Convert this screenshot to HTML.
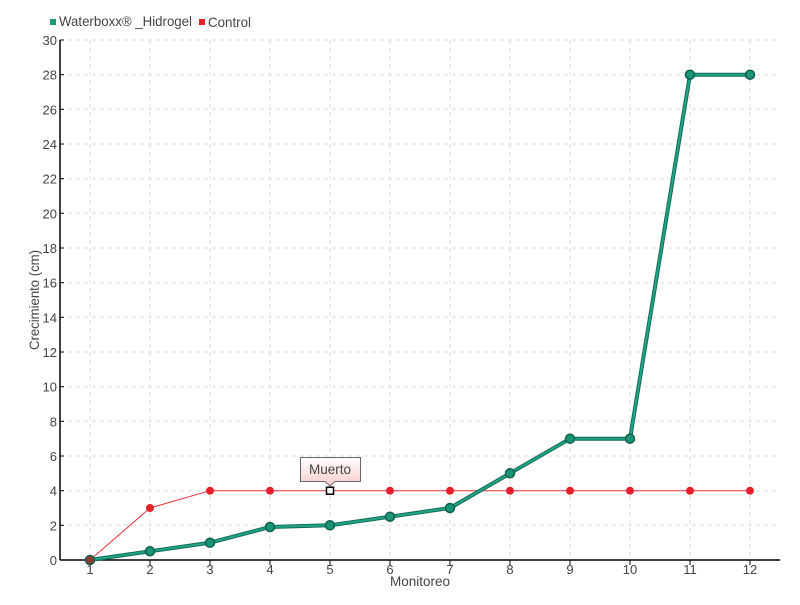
<!DOCTYPE html>
<html><head><meta charset="utf-8"><style>
body{margin:0;background:#fff}
svg text{font-family:"Liberation Sans Narrow","Liberation Sans",sans-serif;fill:#444}
</style></head><body>
<svg width="800" height="600" viewBox="0 0 800 600">
<g stroke="#ddd" stroke-dasharray="4,4" stroke-width="1">
<line x1="60" x2="780" y1="40" y2="40"/><line x1="60" x2="780" y1="74.7" y2="74.7"/><line x1="60" x2="780" y1="109.3" y2="109.3"/><line x1="60" x2="780" y1="144" y2="144"/><line x1="60" x2="780" y1="178.7" y2="178.7"/><line x1="60" x2="780" y1="213.3" y2="213.3"/><line x1="60" x2="780" y1="248" y2="248"/><line x1="60" x2="780" y1="282.7" y2="282.7"/><line x1="60" x2="780" y1="317.3" y2="317.3"/><line x1="60" x2="780" y1="352" y2="352"/><line x1="60" x2="780" y1="386.7" y2="386.7"/><line x1="60" x2="780" y1="421.3" y2="421.3"/><line x1="60" x2="780" y1="456" y2="456"/><line x1="60" x2="780" y1="490.7" y2="490.7"/><line x1="60" x2="780" y1="525.3" y2="525.3"/>
<line x1="90" x2="90" y1="40" y2="560"/><line x1="150" x2="150" y1="40" y2="560"/><line x1="210" x2="210" y1="40" y2="560"/><line x1="270" x2="270" y1="40" y2="560"/><line x1="330" x2="330" y1="40" y2="560"/><line x1="390" x2="390" y1="40" y2="560"/><line x1="450" x2="450" y1="40" y2="560"/><line x1="510" x2="510" y1="40" y2="560"/><line x1="570" x2="570" y1="40" y2="560"/><line x1="630" x2="630" y1="40" y2="560"/><line x1="690" x2="690" y1="40" y2="560"/><line x1="750" x2="750" y1="40" y2="560"/>
</g>
<g stroke="#000" stroke-width="1.5">
<line x1="60" y1="40" x2="60" y2="560"/><line x1="60" y1="560" x2="780" y2="560"/>
</g>
<g stroke="#000"><line x1="60" x2="64" y1="40" y2="40"/><line x1="60" x2="64" y1="74.7" y2="74.7"/><line x1="60" x2="64" y1="109.3" y2="109.3"/><line x1="60" x2="64" y1="144" y2="144"/><line x1="60" x2="64" y1="178.7" y2="178.7"/><line x1="60" x2="64" y1="213.3" y2="213.3"/><line x1="60" x2="64" y1="248" y2="248"/><line x1="60" x2="64" y1="282.7" y2="282.7"/><line x1="60" x2="64" y1="317.3" y2="317.3"/><line x1="60" x2="64" y1="352" y2="352"/><line x1="60" x2="64" y1="386.7" y2="386.7"/><line x1="60" x2="64" y1="421.3" y2="421.3"/><line x1="60" x2="64" y1="456" y2="456"/><line x1="60" x2="64" y1="490.7" y2="490.7"/><line x1="60" x2="64" y1="525.3" y2="525.3"/>
<line x1="90" x2="90" y1="560" y2="565"/><line x1="150" x2="150" y1="560" y2="565"/><line x1="210" x2="210" y1="560" y2="565"/><line x1="270" x2="270" y1="560" y2="565"/><line x1="330" x2="330" y1="560" y2="565"/><line x1="390" x2="390" y1="560" y2="565"/><line x1="450" x2="450" y1="560" y2="565"/><line x1="510" x2="510" y1="560" y2="565"/><line x1="570" x2="570" y1="560" y2="565"/><line x1="630" x2="630" y1="560" y2="565"/><line x1="690" x2="690" y1="560" y2="565"/><line x1="750" x2="750" y1="560" y2="565"/></g>
<g font-size="13" text-anchor="end">
<text x="57" y="45">30</text><text x="57" y="79.7">28</text><text x="57" y="114.3">26</text><text x="57" y="149">24</text><text x="57" y="183.7">22</text><text x="57" y="218.3">20</text><text x="57" y="253">18</text><text x="57" y="287.7">16</text><text x="57" y="322.3">14</text><text x="57" y="357">12</text><text x="57" y="391.7">10</text><text x="57" y="426.3">8</text><text x="57" y="461">6</text><text x="57" y="495.7">4</text><text x="57" y="530.3">2</text><text x="57" y="565">0</text></g>
<g font-size="13" text-anchor="middle">
<text x="90" y="574">1</text><text x="150" y="574">2</text><text x="210" y="574">3</text><text x="270" y="574">4</text><text x="330" y="574">5</text><text x="390" y="574">6</text><text x="450" y="574">7</text><text x="510" y="574">8</text><text x="570" y="574">9</text><text x="630" y="574">10</text><text x="690" y="574">11</text><text x="750" y="574">12</text>
<text x="420" y="586" font-size="14" textLength="60" lengthAdjust="spacingAndGlyphs">Monitoreo</text>
<text transform="translate(39,300) rotate(-90)" font-size="14" textLength="100" lengthAdjust="spacingAndGlyphs">Crecimiento (cm)</text></g>
<polyline fill="none" stroke="#e8303a" stroke-width="1" points="90,560 150,508 210,490.7 270,490.7 330,490.7 390,490.7 450,490.7 510,490.7 570,490.7 630,490.7 690,490.7 750,490.7"/>
<g fill="#e8202a"><circle cx="150" cy="508" r="4"/><circle cx="210" cy="490.7" r="4"/><circle cx="270" cy="490.7" r="4"/><circle cx="330" cy="490.7" r="4"/><circle cx="390" cy="490.7" r="4"/><circle cx="450" cy="490.7" r="4"/><circle cx="510" cy="490.7" r="4"/><circle cx="570" cy="490.7" r="4"/><circle cx="630" cy="490.7" r="4"/><circle cx="690" cy="490.7" r="4"/><circle cx="750" cy="490.7" r="4"/></g>
<polyline fill="none" stroke="#156b55" stroke-width="4" points="90,560 150,551.3 210,542.7 270,527 330,525.3 390,516.7 450,508 510,473.3 570,438.7 630,438.7 690,74.7 750,74.7"/>
<polyline fill="none" stroke="#1fa585" stroke-width="2" points="90,560 150,551.3 210,542.7 270,527 330,525.3 390,516.7 450,508 510,473.3 570,438.7 630,438.7 690,74.7 750,74.7"/>
<g fill="#1a9578" stroke="#11604c" stroke-width="1.5"><circle cx="90" cy="560" r="4.5" fill="#8b3a2f"/><circle cx="150" cy="551.3" r="4.5"/><circle cx="210" cy="542.7" r="4.5"/><circle cx="270" cy="527" r="4.5"/><circle cx="330" cy="525.3" r="4.5"/><circle cx="390" cy="516.7" r="4.5"/><circle cx="450" cy="508" r="4.5"/><circle cx="510" cy="473.3" r="4.5"/><circle cx="570" cy="438.7" r="4.5"/><circle cx="630" cy="438.7" r="4.5"/><circle cx="690" cy="74.7" r="4.5"/><circle cx="750" cy="74.7" r="4.5"/></g>
<rect x="326.5" y="487.2" width="7" height="7" fill="#fff" stroke="#000" stroke-width="1.5"/>
<defs><linearGradient id="g" x1="0" y1="0" x2="0" y2="1"><stop offset="0" stop-color="#fff"/><stop offset="1" stop-color="#f7cccc"/></linearGradient></defs>
<path d="M300.5,457.5 H360.5 V481.5 H335 L330,486 L325,481.5 H300.5 Z" fill="url(#g)" stroke="#666"/>
<text x="330" y="474" font-size="14" text-anchor="middle" textLength="42" lengthAdjust="spacingAndGlyphs">Muerto</text>
<rect x="50" y="19" width="6" height="6" fill="#1a9a7a"/>
<text x="59" y="26" font-size="14" textLength="133" lengthAdjust="spacingAndGlyphs">Waterboxx® _Hidrogel</text>
<rect x="199" y="19" width="6" height="6" fill="#e8202a"/>
<text x="208" y="27" font-size="14" textLength="43" lengthAdjust="spacingAndGlyphs">Control</text>
</svg>
</body></html>
